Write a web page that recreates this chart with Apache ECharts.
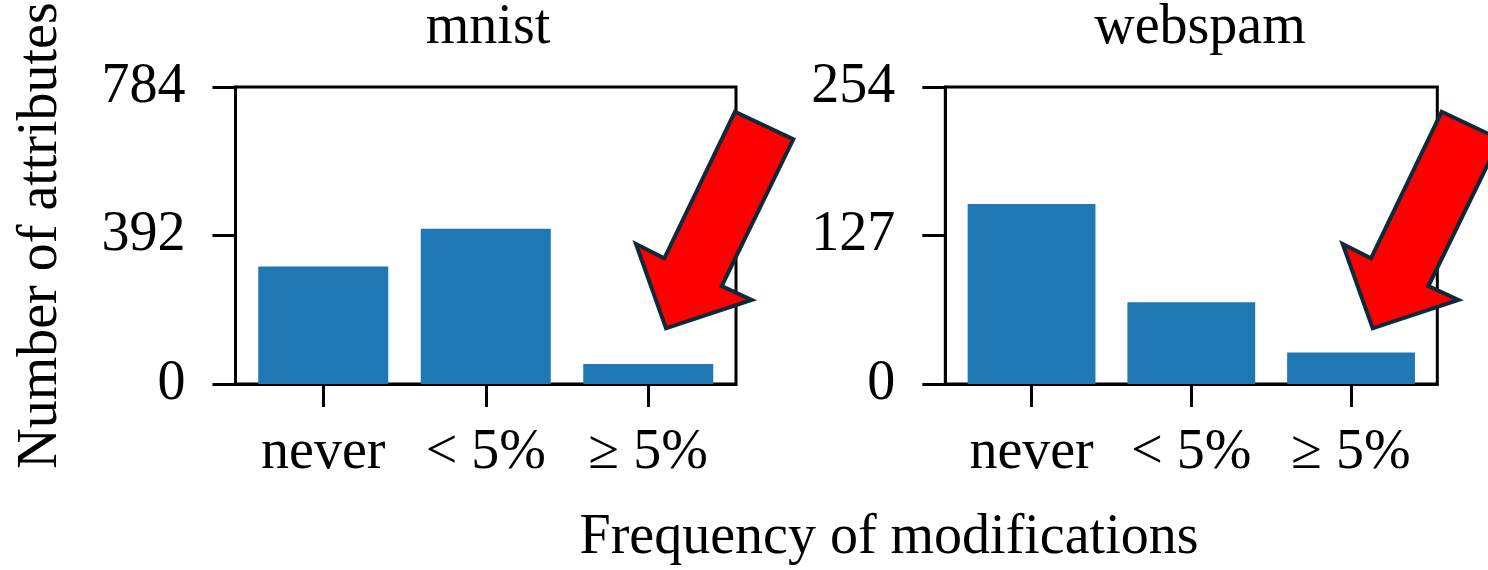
<!DOCTYPE html>
<html>
<head>
<meta charset="utf-8">
<script src="https://cdn.jsdelivr.net/npm/echarts@6/dist/echarts.min.js"></script>
<style>
html,body{margin:0;padding:0;background:#fff;}
#chart{width:1488px;height:570px;}
</style>
</head>
<body>
<div id="chart"></div>
<script>
// ---- data ----
const categories = ['never', '< 5%', '\u2265 5%'];
const datasetNames = ['mnist', 'webspam'];
const mnistValues = [310, 410, 53];
const webspamValues = [154, 70, 27];
const mnistTicks = [0, 392, 784];
const webspamTicks = [0, 127, 254];
const yLabel = 'Number of attributes';
const xLabel = 'Frequency of modifications';

// ---- layout / style ----
const FONT = '"Liberation Serif", "Times New Roman", serif';
const FS = 56;
const BLUE = '#1f77b4';
const grids = [
  { left: 235.5, top: 87, width: 500.5, height: 297 },
  { left: 945.3, top: 87, width: 492, height: 297 }
];
const XMIN = -0.54, XMAX = 2.54;

const chart = echarts.init(document.getElementById('chart'), null, { renderer: 'canvas' });

function xAxisFor(i) {
  return {
    type: 'value', gridIndex: i, min: XMIN, max: XMAX,
    axisLine: { show: true, onZero: false, lineStyle: { color: '#000', width: 3 } },
    axisTick: { show: true, customValues: categories.map((c, k) => k), length: 23, lineStyle: { color: '#000', width: 3 } },
    axisLabel: { show: true, customValues: categories.map((c, k) => k), formatter: v => categories[Math.round(v)],
      fontFamily: FONT, fontSize: FS, color: '#000', margin: 41 },
    splitLine: { show: false }
  };
}
function yAxisFor(i, ticks, withName) {
  const o = {
    type: 'value', gridIndex: i, min: ticks[0], max: ticks[ticks.length - 1], interval: ticks[1] - ticks[0],
    axisLine: { show: true, onZero: false, lineStyle: { color: '#000', width: 3 } },
    axisTick: { show: true, length: 23, lineStyle: { color: '#000', width: 3 } },
    axisLabel: { fontFamily: FONT, fontSize: FS, color: '#000', margin: 50 },
    splitLine: { show: false }
  };
  if (withName) {
    Object.assign(o, {
      name: yLabel, nameLocation: 'middle', nameRotate: 90, nameGap: 166,
      nameTextStyle: { fontFamily: FONT, fontSize: FS, color: '#000' }
    });
  }
  return o;
}
function barData(vals) { return vals.map((v, k) => [k, v]); }

// arrow polygons (decorative annotations)
const arrowShape = [[735, 111.7], [793.3, 139.3], [721.7, 286], [751.7, 300], [666, 328.3], [636, 244], [664.3, 258.3]];
const arrowOffsets = [0, 706.7];

const titleStyle = { fontFamily: FONT, fontSize: FS, fontWeight: 'normal', color: '#000' };
const option = {
  backgroundColor: '#fff',
  animation: false,
  title: [
    { text: datasetNames[0], left: 488, top: 0, padding: 0, textAlign: 'center', textStyle: titleStyle },
    { text: datasetNames[1], left: 1200, top: 0, padding: 0, textAlign: 'center', textStyle: titleStyle },
    { text: xLabel, left: 889, top: 510, padding: 0, textAlign: 'center', textStyle: titleStyle }
  ],
  grid: grids.map(g => Object.assign({ show: true, borderColor: '#000', borderWidth: 3, backgroundColor: 'transparent', containLabel: false }, g)),
  xAxis: [xAxisFor(0), xAxisFor(1)],
  yAxis: [yAxisFor(0, mnistTicks, true), yAxisFor(1, webspamTicks, false)],
  series: [
    { type: 'bar', xAxisIndex: 0, yAxisIndex: 0, data: barData(mnistValues), barWidth: grids[0].width * 0.8 / (XMAX - XMIN), itemStyle: { color: BLUE } },
    { type: 'bar', xAxisIndex: 1, yAxisIndex: 1, data: barData(webspamValues), barWidth: grids[1].width * 0.8 / (XMAX - XMIN), itemStyle: { color: BLUE } }
  ],
  graphic: arrowOffsets.map(dx => ({
    type: 'polygon', z: 100,
    shape: { points: arrowShape.map(p => [p[0] + dx, p[1]]) },
    style: { fill: '#ff0000', stroke: '#0d2a3a', lineWidth: 4, lineJoin: 'miter' }
  }))
};
chart.setOption(option);
</script>
</body>
</html>
